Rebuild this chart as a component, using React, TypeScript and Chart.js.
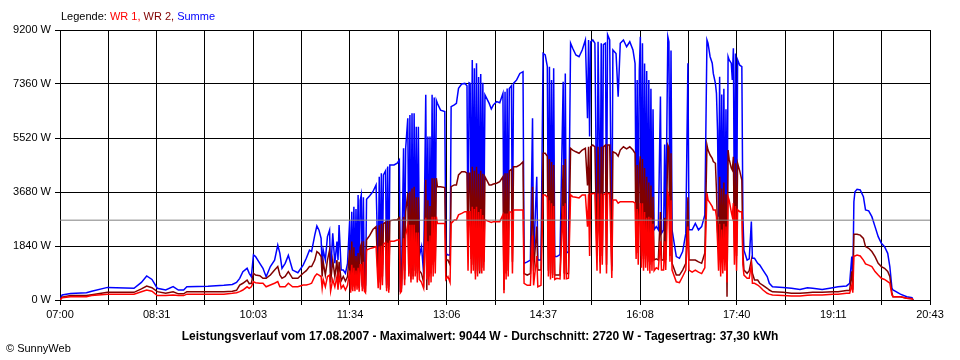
import React, { useEffect, useRef } from "react";
import { Chart, registerables } from "chart.js";

Chart.register(...registerables);

// Time axis (minutes after midnight) and labels
const X_MIN = 420; // 07:00
const X_MAX = 1243; // 20:43
const timeLabels = ["07:00", "08:31", "10:03", "11:34", "13:06", "14:37", "16:08", "17:40", "19:11", "20:43"];
const yTicksMax = 9200;
const yStep = 1840;
const average = 2720;

const legendItems = [
  { text: "WR 1,", color: "#ff0000" },
  { text: "WR 2,", color: "#800000" },
  { text: "Summe", color: "#0000ff" },
];
const titleText = "Leistungsverlauf vom 17.08.2007 - Maximalwert: 9044 W - Durchschnitt: 2720 W - Tagesertrag: 37,30 kWh";
const copyrightText = "\u00A9 SunnyWeb";

// Sample times (minutes after midnight)
const times = [
  420, 422, 430, 445, 450, 465, 490, 497, 502, 507, 512, 520, 527, 532, 537, 540, 560, 575, 583, 587, 590, 593, 597, 599, 601, 603,
  605, 609, 612, 615, 619, 623, 626, 628, 630, 633,
  636, 640, 645, 650, 653, 656, 658, 661, 663, 665,
  667, 668, 669, 671, 673, 675, 676, 678, 680, 682,
  683, 684, 686, 688, 690, 692,
  694, 695, 696, 697, 698, 699, 700, 701, 702, 703,
  704, 705, 706, 707, 708, 709, 710, 713, 716, 719,
  721, 722, 723, 724, 725, 726, 728, 729, 730, 731,
  732, 736, 739, 741, 742, 743, 745, 746, 747, 749,
  750, 751, 752, 753, 754, 755, 756, 757, 758, 759,
  760, 762, 764, 766, 767, 768, 769, 770, 771, 772,
  773, 774, 775, 776, 777, 780, 784, 785, 787, 789,
  790, 793, 795, 797, 800, 803, 805, 806, 807,
  808, 809, 810, 811, 812, 813, 814, 815, 816, 817,
  818, 819, 820, 821, 822, 826, 828, 830, 833, 836,
  839, 840, 841, 842, 843, 844, 845, 847, 848, 849,
  852, 855, 858, 859, 862, 865, 867, 868, 871, 872,
  875, 877, 879, 881, 882, 883, 884, 885, 886, 887,
  888, 890, 893, 896, 897, 898, 899, 901, 903, 905,
  908, 911, 914, 917, 919, 920, 921, 922, 924, 926,
  928, 929, 931, 932, 933, 934, 936, 937, 938, 940,
  942, 943, 946, 948, 950, 953, 956, 959, 962, 964,
  965, 966, 967, 968, 969, 970, 971, 972, 973, 974,
  975, 976, 977, 978, 979, 980, 981, 982, 984, 986,
  988, 989, 991, 992, 993, 995, 996, 997, 998, 999,
  1003, 1006, 1009, 1012, 1014, 1015, 1018, 1021, 1024, 1027,
  1030, 1032, 1033, 1035, 1037, 1038, 1040, 1041, 1042, 1043,
  1044, 1045, 1046, 1047, 1048, 1049, 1050, 1051, 1052, 1053,
  1055, 1056, 1057, 1058, 1059, 1060, 1061, 1063, 1065, 1066,
  1067, 1070, 1072, 1074, 1075, 1077, 1080, 1082, 1085, 1089,
  1091, 1094,
  1104, 1112, 1120, 1127, 1132, 1141, 1151, 1156, 1164, 1167,
  1169, 1170, 1171, 1172, 1174, 1177, 1180, 1182, 1185, 1188,
  1191, 1194, 1197, 1200, 1203, 1205, 1207, 1208, 1215, 1221,
  1226, 1227,
];

// WR 1 (W)
const wr1 = [
  0, 80, 114, 114, 150, 200, 200, 280, 340, 300, 150, 150, 170, 150, 150, 200, 200, 200, 230, 250, 285, 340, 450, 400, 450, 625,
  590, 570, 570, 450, 510, 570, 625, 450, 450, 450,
  570, 450, 450, 510, 510, 540, 570, 800, 890, 850,
  800, 400, 700, 450, 800, 850, 300, 700, 450, 800,
  350, 850, 400, 500, 340, 500,
  1000, 250, 1200, 300, 1100, 300, 1000, 350, 1100, 280,
  1200, 1200, 300, 1300, 300, 250, 1700, 1750, 1780, 1820,
  400, 1820, 350, 1850, 500, 1900, 1950, 300, 1950, 250,
  2000, 2000, 2045, 2045, 250, 300, 2100, 500, 2200, 2560,
  800, 2560, 600, 2560, 700, 2560, 800, 2300, 600, 2300,
  700, 600, 400, 2800, 700, 2000, 500, 2200, 600, 2840,
  800, 2840, 900, 2840, 2610, 2610, 2610, 700, 800, 600,
  2610, 2730, 2730, 2900, 2950, 3010, 3010, 1000, 3010,
  3010, 900, 3180, 1000, 3100, 700, 3180, 800, 3000, 970,
  3100, 900, 2900, 1000, 2730, 2670, 2640, 2670, 2670, 2670,
  2900, 230, 2950, 700, 2950, 800, 3000, 3000, 900, 3070,
  3070, 3070, 3070, 570, 500, 500, 2200, 500, 1500, 450,
  500, 3580, 3580, 3500, 800, 3400, 700, 3300, 750, 3200,
  700, 740, 720, 3200, 700, 3300, 720, 740, 3580, 3520,
  3500, 3480, 3580, 3580, 2500, 3600, 1500, 3600, 3630, 3630,
  1000, 3630, 900, 3630, 1200, 3580, 3630, 900, 3630, 3630,
  750, 3410, 3410, 3300, 3350, 3350, 3350, 3350, 3350, 3300,
  1400, 3100, 1200, 2900, 3300, 1100, 3300, 1000, 3000, 1100,
  2800, 1000, 2840, 900, 2800, 1000, 2600, 1000, 1100, 1050,
  2000, 1020, 1020, 2000, 1020, 3640, 3500, 1300, 3400, 1020,
  620, 590, 800, 1020, 2500, 1020, 950, 1020, 950, 900,
  1100, 3640, 3410, 3300, 3180, 3070, 3070, 2840, 2000, 1000,
  2600, 800, 2400, 900, 2600, 1000, 2500, 600, 3520, 3400,
  3000, 2840, 3300, 1200, 3200, 1000, 3070, 3010, 3010, 1200,
  850, 740, 740, 1200, 570, 570, 510, 450, 340, 230,
  200, 170,
  150, 140, 140, 160, 170, 170, 200, 200, 230, 230,
  500, 250, 1500, 1500, 1530, 1500, 1360, 1230, 1190, 1140,
  970, 850, 740, 700, 625, 570, 170, 110, 110, 57,
  40, 0,
];

// WR 2 (W)
const wr2 = [
  0, 100, 150, 150, 180, 260, 260, 380, 477, 420, 285, 230, 280, 210, 210, 285, 285, 285, 300, 330, 510, 570, 680, 560, 570, 910,
  850, 830, 740, 740, 850, 1020, 1140, 850, 740, 800,
  970, 740, 740, 910, 1000, 1140, 1140, 1360, 1650, 1590,
  1480, 800, 1300, 850, 1360, 1700, 600, 1360, 800, 1360,
  600, 1300, 650, 800, 640, 800,
  1700, 350, 1990, 450, 1800, 500, 1500, 600, 1600, 400,
  1800, 1900, 450, 2000, 400, 350, 2050, 2200, 2400, 2500,
  700, 2550, 600, 2600, 800, 2600, 2650, 400, 2700, 350,
  2700, 2730, 2730, 2800, 350, 400, 2840, 700, 3000, 3640,
  900, 3700, 700, 3800, 800, 3860, 1000, 3500, 900, 3500,
  1000, 900, 600, 4100, 340, 3400, 800, 3200, 900, 4150,
  1200, 4150, 1300, 4150, 3860, 3860, 3830, 1360, 1360, 1200,
  3860, 3920, 3920, 4260, 4370, 4370, 4320, 1500, 4320,
  4320, 1400, 4540, 1200, 4400, 900, 4540, 1000, 4300, 900,
  4400, 1100, 4300, 1300, 4200, 3920, 3920, 3950, 3980, 4030,
  4200, 340, 4320, 900, 4320, 1000, 4400, 4450, 1300, 4540,
  4540, 4600, 4710, 900, 850, 900, 3860, 1000, 2500, 1020,
  1020, 5000, 5000, 4900, 1000, 4800, 900, 4700, 850, 4600,
  850, 850, 850, 4600, 900, 4800, 900, 900, 5170, 5110,
  5050, 5000, 5110, 5170, 3900, 5220, 2600, 5220, 5280, 5220,
  1500, 5220, 1300, 5220, 1500, 5220, 5280, 1200, 5280, 5280,
  1000, 5050, 5000, 4900, 5110, 5220, 5150, 5220, 5110, 5000,
  1800, 4600, 1600, 4500, 4900, 1500, 4800, 1400, 4500, 1500,
  4200, 1300, 4000, 1200, 3900, 1300, 3520, 1360, 1400, 1360,
  3000, 1360, 1360, 2800, 1360, 5280, 5200, 1500, 5000, 1250,
  850, 850, 1020, 1250, 3500, 1360, 1360, 1360, 1300, 1250,
  1600, 5280, 5110, 4940, 4830, 4720, 4660, 3750, 2390, 1800,
  4200, 1360, 3800, 1500, 4000, 1600, 3600, 110, 5110, 4800,
  4500, 4430, 4880, 1800, 4660, 1500, 4660, 4400, 4090, 1600,
  1020, 910, 1000, 1360, 910, 680, 680, 570, 500, 400,
  340, 280,
  260, 230, 230, 250, 260, 260, 285, 285, 320, 320,
  980, 350, 2240, 2240, 2240, 2210, 2100, 1820, 1760, 1650,
  1480, 1250, 1140, 1080, 970, 800, 230, 110, 110, 57,
  40, 0,
];

// Summe (W)
const summe = [
  0, 170, 220, 250, 300, 430, 400, 600, 818, 700, 400, 340, 454, 340, 340, 450, 470, 500, 530, 600, 738, 965, 1080, 910, 795, 1533,
  1480, 1250, 1080, 795, 1140, 1360, 1874, 1590, 1080, 1250,
  1520, 1020, 930, 1190, 1420, 1700, 1650, 2210, 2521, 2380,
  2100, 1140, 1700, 1360, 2160, 2383, 900, 2270, 1250, 1990,
  1360, 2555, 1020, 1020, 910, 1250,
  2700, 600, 3010, 700, 3180, 650, 3100, 800, 3580, 500,
  3400, 3580, 500, 3500, 450, 500, 3430, 3550, 3690, 3920,
  1000, 4200, 700, 4320, 1200, 4260, 4400, 500, 4550, 450,
  4600, 4600, 4660, 4770, 400, 500, 5170, 1000, 5170, 6190,
  1140, 6300, 900, 6360, 1000, 6360, 1300, 5900, 1400, 5900,
  1500, 1820, 900, 6990, 1200, 5570, 1000, 5570, 1100, 6990,
  1500, 6900, 1600, 6800, 6700, 6470, 6420, 1590, 1530, 1530,
  6590, 6650, 6700, 7210, 7360, 7380, 7300, 1590, 7400,
  7380, 2390, 8180, 2840, 7900, 1820, 8070, 1930, 7600, 1480,
  7700, 2300, 7400, 2600, 6990, 6700, 6510, 6650, 6760, 6720,
  7040, 1590, 7100, 1250, 7210, 1600, 7210, 7300, 2000, 7380,
  7500, 7720, 7780, 1250, 1300, 1360, 6190, 1360, 4200, 1360,
  1360, 8400, 8350, 7950, 1700, 7950, 1480, 7500, 1600, 7900,
  1480, 1480, 1550, 7440, 1600, 7720, 1600, 1650, 8750, 8580,
  8350, 8290, 8520, 8860, 6190, 8860, 5570, 8800, 8860, 8750,
  1930, 8800, 2840, 8750, 1930, 8700, 8750, 2500, 9044, 8860,
  1140, 8520, 8400, 6930, 8750, 8860, 8630, 8800, 8520, 8060,
  2390, 7500, 1930, 7800, 8970, 2000, 8750, 1820, 8060, 2390,
  7800, 1900, 7500, 2000, 7200, 2200, 6500, 2390, 2500, 2390,
  6930, 2270, 2390, 5300, 2390, 8970, 8800, 2500, 8500, 2390,
  1480, 1420, 1650, 2270, 8070, 2390, 2390, 2610, 2390, 2500,
  2900, 8860, 8750, 8290, 8070, 7720, 7380, 7040, 5790, 2840,
  7610, 1930, 7000, 2400, 7200, 2300, 6500, 1930, 8290, 8180,
  8070, 7500, 8580, 2390, 8400, 1930, 8180, 8000, 7950, 2840,
  1700, 1360, 1400, 2670, 1420, 1420, 1250, 1190, 1020, 800,
  570, 450,
  430, 400, 360, 420, 400, 360, 420, 450, 480, 570,
  1480, 680, 3350, 3690, 3770, 3750, 3520, 3070, 3040, 2840,
  2500, 2160, 1930, 1820, 1590, 1140, 400, 340, 200, 110,
  80, 0,
];

const FONT = "'Liberation Sans', Arial, sans-serif";

function toPoints(values: number[]) {
  return values.map((v, i) => ({ x: times[i], y: v }));
}

const textPlugin = {
  id: "sunnyTexts",
  afterDraw(chart: any) {
    const ctx = chart.ctx as CanvasRenderingContext2D;
    ctx.save();
    ctx.textBaseline = "middle";
    // legend
    ctx.font = `11px ${FONT}`;
    ctx.textAlign = "left";
    let x = 61;
    const ly = 17;
    ctx.fillStyle = "#000";
    ctx.fillText("Legende:", x, ly);
    x += ctx.measureText("Legende: ").width;
    legendItems.forEach((it) => {
      ctx.fillStyle = it.color;
      ctx.fillText(it.text, x, ly);
      x += ctx.measureText(it.text + " ").width;
    });
    // title
    ctx.font = `bold 12px ${FONT}`;
    ctx.fillStyle = "#000";
    ctx.textAlign = "center";
    ctx.fillText(titleText, 480, 337);
    // copyright
    ctx.font = `11px ${FONT}`;
    ctx.textAlign = "left";
    ctx.fillText(copyrightText, 6, 349);
    ctx.restore();
  },
};

export default function App() {
  const canvasRef = useRef<HTMLCanvasElement | null>(null);

  useEffect(() => {
    if (!canvasRef.current) return;
    const gridCount = (timeLabels.length - 1) * 2;
    const chart = new Chart(canvasRef.current, {
      type: "line",
      data: {
        datasets: [
          {
            label: "Durchschnitt",
            data: [
              { x: X_MIN, y: average },
              { x: X_MAX, y: average },
            ],
            borderColor: "#808080",
            borderWidth: 1,
            pointRadius: 0,
            order: 0,
          },
          {
            label: "WR 1",
            data: toPoints(wr1),
            borderColor: "#ff0000",
            borderWidth: 1.5,
            pointRadius: 0,
            order: 1,
          },
          {
            label: "WR 2",
            data: toPoints(wr2),
            borderColor: "#800000",
            borderWidth: 1.5,
            pointRadius: 0,
            order: 2,
          },
          {
            label: "Summe",
            data: toPoints(summe),
            borderColor: "#0000ff",
            borderWidth: 1.5,
            pointRadius: 0,
            order: 3,
          },
        ],
      },
      options: {
        animation: false,
        responsive: false,
        devicePixelRatio: 1,
        layout: { padding: { top: 30, right: 30, left: 0, bottom: 0 } },
        plugins: {
          legend: { display: false },
          tooltip: { enabled: false },
          title: { display: false },
        },
        elements: { line: { tension: 0 }, point: { radius: 0 } },
        scales: {
          x: {
            type: "linear",
            min: X_MIN,
            max: X_MAX,
            afterBuildTicks: (scale: any) => {
              const ticks = [];
              for (let i = 0; i <= gridCount; i++) {
                ticks.push({ value: X_MIN + (i * (X_MAX - X_MIN)) / gridCount });
              }
              scale.ticks = ticks;
            },
            afterFit: (scale: any) => {
              scale.height = 60;
            },
            grid: { color: "#000000", lineWidth: 1, tickLength: 5, drawTicks: true },
            border: { color: "#000000", width: 1 },
            ticks: {
              autoSkip: false,
              maxRotation: 0,
              minRotation: 0,
              padding: 3,
              color: "#000000",
              font: { family: FONT, size: 11 },
              callback: (_v: any, i: number) => (i % 2 === 0 ? timeLabels[i / 2] : ""),
            },
          },
          y: {
            min: 0,
            max: yTicksMax,
            afterFit: (scale: any) => {
              scale.width = 60;
            },
            grid: { color: "#000000", lineWidth: 1, tickLength: 5, drawTicks: true },
            border: { color: "#000000", width: 1 },
            ticks: {
              stepSize: yStep,
              padding: 4,
              color: "#000000",
              font: { family: FONT, size: 11 },
              callback: (v: any) => `${v} W`,
            },
          },
        },
      },
      plugins: [textPlugin],
    } as any);
    return () => chart.destroy();
  }, []);

  return (
    <div
      style={{
        position: "fixed",
        left: 0,
        top: 0,
        width: 960,
        height: 360,
        background: "#ffffff",
      }}
    >
      <canvas ref={canvasRef} width={960} height={360} style={{ width: 960, height: 360, display: "block" }} />
    </div>
  );
}
